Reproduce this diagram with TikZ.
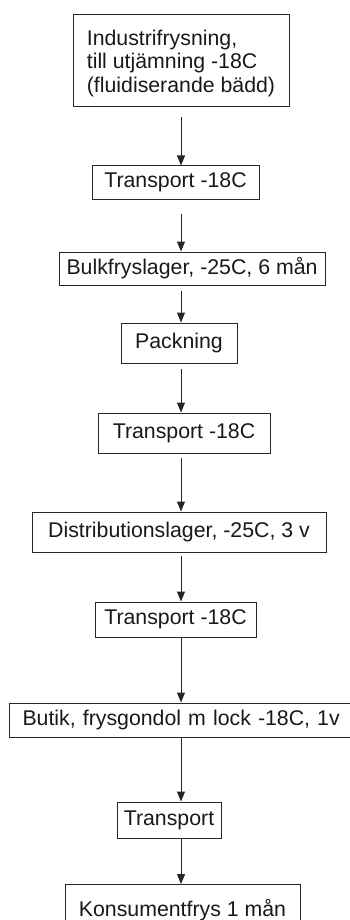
\documentclass[tikz,border=0pt]{standalone}
\usepackage{fontspec}
\setmainfont{Liberation Sans}
\usetikzlibrary{arrows.meta}
\tikzset{
  box/.style={draw=black!85, line width=1pt, rectangle, inner sep=0pt, text=black!90,
    font=\fontsize{21.3}{23.5}\selectfont},
  flow/.style={draw=black!85, line width=1pt, -{Triangle[length=10pt,width=8pt]}}
}
\begin{document}
\begin{tikzpicture}[x=1pt,y=-1pt]
\useasboundingbox (0,0) rectangle (350,920);
\clip (0,0) rectangle (350,920);
\coordinate (ax) at (181,0);
\node[box, minimum width=216, minimum height=92, align=left, text depth=-2pt] (b1) at (181,61)
  {Industrifrysning,\\till utjämning -18C\\(fluidiserande bädd)};
\node[box, minimum width=167, minimum height=33] (b2) at (175.5,182.5) {Transport -18C};
\node[box, minimum width=266, minimum height=33] (b3) at (192,268.5) {Bulkfryslager, -25C, 6 mån};
\node[box, minimum width=116, minimum height=40] (b4) at (179,343) {Packning};
\node[box, minimum width=172, minimum height=40] (b5) at (184,433) {Transport -18C};
\node[box, minimum width=294, minimum height=40] (b6) at (179,532) {Distributionslager, -25C, 3 v};
\node[box, minimum width=161, minimum height=35] (b7) at (175.5,619.5) {Transport -18C};
\node[box, anchor=west, text width=320, align=left, inner xsep=13pt, minimum height=34] (b8) at (9,720)
  {Butik, frysgondol m lock -18C, 1v};
\node[box, minimum width=104, minimum height=36] (b9) at (169,820) {Transport};
\node[box, anchor=north, minimum width=235, minimum height=52] (b10) at (182.5,884) {Konsumentfrys 1 mån};
\draw[flow, shorten <=10pt] (b1.south -| ax) -- (b2.north -| ax);
\draw[flow, shorten <=14pt] (b2.south -| ax) -- (b3.north -| ax);
\draw[flow, shorten <=5pt] (b3.south -| ax) -- (b4.north -| ax);
\draw[flow, shorten <=5pt] (b4.south -| ax) -- (b5.north -| ax);
\draw[flow, shorten <=4pt] (b5.south -| ax) -- (b6.north -| ax);
\draw[flow, shorten <=3pt] (b6.south -| ax) -- (b7.north -| ax);
\draw[flow] (b7.south -| ax) -- (b8.north -| ax);
\draw[flow] (b8.south -| ax) -- (b9.north -| ax);
\draw[flow] (b9.south -| ax) -- (b10.north -| ax);
\end{tikzpicture}
\end{document}
